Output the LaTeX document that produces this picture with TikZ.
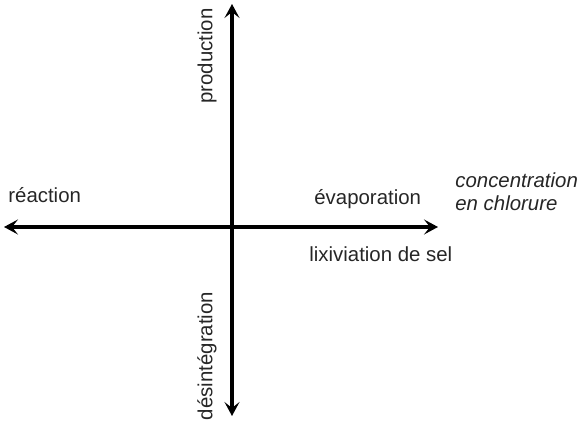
\documentclass[tikz,border=0pt]{standalone}
\usepackage{fontspec}
\setmainfont{Liberation Sans}
\usetikzlibrary{arrows.meta}
\begin{document}
\begin{tikzpicture}[x=0.5pt,y=-0.5pt,
  axis/.style={line width=1.6pt,{Stealth[length=7pt,width=7.5pt,inset=3pt]}-{Stealth[length=7pt,width=7.5pt,inset=3pt]}},
  lbl/.style={inner sep=0pt,font=\fontsize{10.2}{12.5}\selectfont,text=black!85}]
\useasboundingbox (0,0) rectangle (580,421);
\coordinate (top) at (232,4);
\coordinate (bot) at (232,416);
\coordinate (left) at (4,227);
\coordinate (right) at (438,227);
\draw[axis] (bot) -- (top);
\draw[axis] (left) -- (right);
\node[lbl,rotate=90] (prod) at (207,56) {production};
\node[lbl,rotate=90] (desint) at (207,356) {désintégration};
\node[lbl,anchor=base west] (reac) at (8,203) {réaction};
\node[lbl,anchor=base west] (evap) at (314,205) {évaporation};
\node[lbl,anchor=base west] (lix) at (309,262) {lixiviation de sel};
\node[lbl,anchor=base west,align=left,font=\fontsize{10.2}{11.8}\selectfont\itshape] (conc) at (455,211) {concentration\\en chlorure};
\end{tikzpicture}
\end{document}
